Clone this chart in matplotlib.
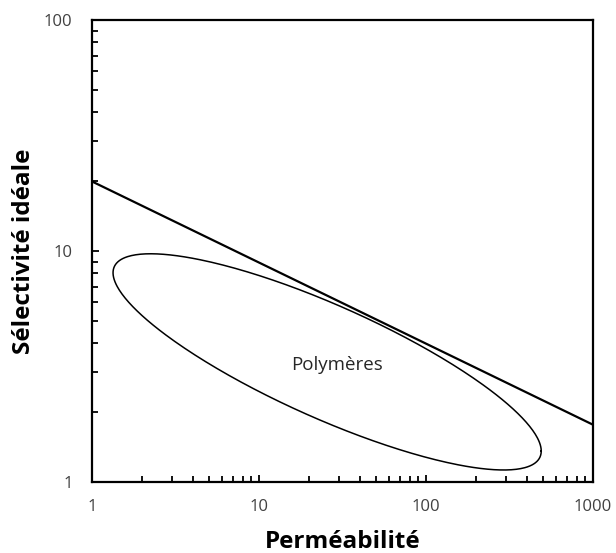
import numpy as np
import matplotlib
matplotlib.use("Agg")
import matplotlib.pyplot as plt
from matplotlib.ticker import LogLocator, FixedLocator, NullFormatter

# Data
bound_x = [1, 1000]          # upper bound line
bound_y = [20, 1.77]
# Polymer region ellipse, defined in log10 space
ell_cx, ell_cy = 1.408, 0.520    # centre (log10 P, log10 S)
ell_A, ell_B = 1.282, 0.468      # half extents
ell_delta = 2.54                 # phase shift
label_text = "Polymères"
label_pos = (29.3, 3.2)
x_ticks = [1, 10, 100, 1000]
y_ticks = [1, 10, 100]

plt.rcParams['font.family'] = ['Open Sans', 'DejaVu Sans']

fig = plt.figure(figsize=(6.16, 5.53), dpi=100)
ax = fig.add_axes([92/616, 1-482/553, (593-92)/616, (482-20)/553])
ax.set_xscale("log")
ax.set_yscale("log")
ax.set_xlim(1, 1000)
ax.set_ylim(1, 100)

ax.plot(bound_x, bound_y, color="black", lw=1.6, solid_capstyle="butt")

t = np.linspace(0, 2*np.pi, 400)
ex = 10**(ell_cx + ell_A*np.cos(t))
ey = 10**(ell_cy + ell_B*np.cos(t - ell_delta))
ax.plot(ex, ey, color="black", lw=1.1)

ax.text(label_pos[0], label_pos[1], label_text, ha="center", va="center",
        fontsize=13.5, color="#262626")

for s in ax.spines.values():
    s.set_linewidth(1.6)

ax.xaxis.set_major_locator(FixedLocator(x_ticks))
ax.yaxis.set_major_locator(FixedLocator(y_ticks))
ax.xaxis.set_minor_locator(LogLocator(base=10, subs=np.arange(2, 10)))
ax.yaxis.set_minor_locator(LogLocator(base=10, subs=np.arange(2, 10)))
ax.xaxis.set_minor_formatter(NullFormatter())
ax.yaxis.set_minor_formatter(NullFormatter())
ax.set_xticklabels([str(v) for v in x_ticks])
ax.set_yticklabels([str(v) for v in y_ticks])
ax.tick_params(which="major", direction="in", length=5, width=1.3,
               labelsize=12, labelcolor="#404040")
ax.tick_params(axis="x", which="major", pad=12)
ax.tick_params(axis="y", which="major", pad=14)
ax.tick_params(which="minor", direction="in", length=4, width=1.3)

ax.set_xlabel("Perméabilité", fontsize=17.5, fontweight="bold", labelpad=11)
ax.set_ylabel("Sélectivité idéale", fontsize=17.5, fontweight="bold", labelpad=6)

fig.savefig("out.png", dpi=100)
